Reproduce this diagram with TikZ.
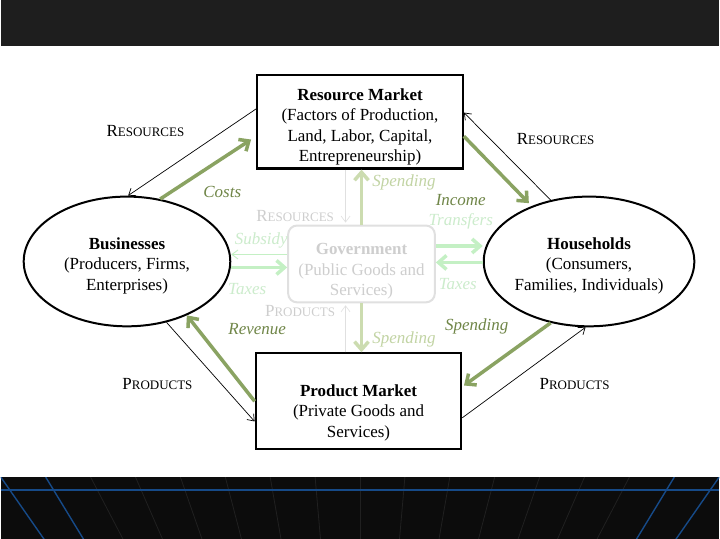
\documentclass[tikz,border=0pt]{standalone}
\usepackage{fontspec}
\setmainfont{Liberation Serif}
\usetikzlibrary{arrows.meta,positioning,calc,shapes.geometric}
\definecolor{moneygreen}{RGB}{138,163,98}
\definecolor{moneytext}{RGB}{112,134,72}
\definecolor{govgreen}{RGB}{204,220,176}
\definecolor{govgreentext}{RGB}{194,212,164}
\definecolor{mint}{RGB}{196,240,196}
\definecolor{minttext}{RGB}{204,236,204}
\definecolor{govgray}{RGB}{224,224,224}
\definecolor{govfont}{RGB}{206,206,206}
\definecolor{topband}{RGB}{30,30,30}
\definecolor{floorblack}{RGB}{12,12,12}
\definecolor{gridblue}{RGB}{22,74,136}
\definecolor{gridgray}{RGB}{32,32,32}
\newcommand{\fsc}[2]{#1{\fontsize{13}{13}\selectfont #2}}
\newcommand{\dropto}[1]{\rule{0pt}{#1}}

\begin{document}
\begin{tikzpicture}[x=1pt, y=-1pt,
  market/.style={draw, line width=2.2pt, minimum width=206pt, minimum height=94pt,
                 align=center, inner sep=0pt, font=\fontsize{17}{20.5}\selectfont},
  sector/.style={ellipse, draw, line width=2pt, minimum width=207pt, minimum height=130pt,
                 align=center, inner sep=0pt, font=\fontsize{17}{20.5}\selectfont},
  govbox/.style={draw=govgray, line width=2pt, rounded corners=9pt, minimum width=147pt,
                 minimum height=77pt, align=center, inner sep=0pt, text=govfont,
                 font=\fontsize{17}{20.5}\selectfont},
  flow/.style={-{Straight Barb[length=6pt, width=9pt]}, line width=0.7pt},
  money/.style={-{Straight Barb[length=8pt, width=14pt]}, line width=3.5pt, draw=moneygreen},
  govmoney/.style={money, draw=govgreen},
  mintmoney/.style={money, draw=mint},
  lbl/.style={font=\fontsize{17}{17}\selectfont, inner sep=0pt},
  moneylbl/.style={lbl, font=\fontsize{17}{17}\selectfont\itshape, text=moneytext}]
% background bands
\fill[white] (0,0) rectangle (720,540);
\fill[topband] (0,0) rectangle (720,46);
\fill[floorblack] (0,478) rectangle (720,540);
\begin{scope}
  \clip (0,478) rectangle (720,540);
  \foreach \k in {-6,...,6}
    \draw[gridgray, line width=0.8pt] ({360+45*\k},478) -- (360,995);
  \foreach \k in {-8,-7,7,8}
    \draw[gridblue, line width=1.4pt] ({360+45*\k},478) -- (360,995);
\end{scope}
\draw[gridblue, line width=1.5pt] (0,491) -- (720,491);

% sectors and markets
\node[govbox] (gov) at (361.5,264.5) {\dropto{26pt}\textbf{Government}\\(Public Goods and\\Services)};
\node[market, above=55pt of gov, xshift=-1.5pt] (rm)
  {\dropto{22pt}\textbf{Resource Market}\\(Factors of Production,\\Land, Labor, Capital,\\Entrepreneurship)};
\node[market, below=49pt of gov, xshift=-3pt, minimum height=96pt] (pm)
  {\dropto{35pt}\textbf{Product Market}\\(Private Goods and\\Services)};
\node[sector, left=56pt of gov, yshift=2.5pt] (bus)
  {\dropto{20pt}\textbf{Businesses}\\(Producers, Firms,\\Enterprises)};
\node[sector, right=47pt of gov, yshift=2.5pt] (hh)
  {\dropto{20pt}\textbf{Households}\\(Consumers,\\Families, Individuals)};

% outer circle
\draw[flow] (rm.173) -- (bus.89);
\draw[money, shorten >=6pt] (bus.62) -- (rm.188);
\draw[flow] (hh.122) -- (rm.5);
\draw[money, shorten >=4pt] (rm.-8) -- (hh.136);
\draw[flow] (bus.-57) -- (pm.191);
\draw[money] (pm.west) -- (bus.-42);
\draw[flow] (pm.-9) -- (hh.267);
\draw[money, shorten >=2pt] (hh.238) -- (pm.8);

% government flows
\draw[flow, draw=govgray, line width=0.6pt, shorten >=2pt]
  ([xshift=-16pt]gov.north |- rm.south) -- ([xshift=-16pt]gov.north);
\draw[govmoney] (gov.north) -- (gov.north |- rm.south);
\draw[flow, draw=govgray, line width=0.6pt, shorten >=2pt]
  ([xshift=-16pt]gov.south |- pm.north) -- ([xshift=-16pt]gov.south);
\draw[govmoney] (gov.south) -- (gov.south |- pm.north);
\draw[flow, draw=mint, line width=0.9pt] ([yshift=9.5pt]gov.west) -- ([yshift=9.5pt]gov.west -| bus.east);
\draw[mintmoney] ([yshift=-3.5pt]gov.west -| bus.east) -- ([yshift=-3.5pt]gov.west);
\draw[mintmoney] ([yshift=18pt]gov.east) -- ([yshift=18pt]gov.east -| hh.west);
\draw[mintmoney] ([yshift=1.5pt]gov.east -| hh.west) -- ([yshift=1.5pt]gov.east);

% labels
\node[lbl] (resl) at (145,131) {\fsc{R}{ESOURCES}};
\node[lbl] (resr) at (556,139) {\fsc{R}{ESOURCES}};
\node[lbl] (prol) at (157,385) {\fsc{P}{RODUCTS}};
\node[lbl] (pror) at (575,385) {\fsc{P}{RODUCTS}};
\node[moneylbl] (costs) at (222,192) {Costs};
\node[moneylbl] (income) at (461,200) {Income};
\node[moneylbl] (revenue) at (257,330) {Revenue};
\node[moneylbl] (spendhh) at (477,327) {Spending};
\node[lbl, text=govfont] (resg) at (295,216) {\fsc{R}{ESOURCES}};
\node[lbl, text=govfont] (prog) at (300,312) {\fsc{P}{RODUCTS}};
\node[moneylbl, text=govgreentext] (spendup) at (404,183) {Spending};
\node[moneylbl, text=govgreentext] (spenddown) at (404,340) {Spending};
\node[moneylbl, text=minttext] (transfers) at (461,222) {Transfers};
\node[moneylbl, text=minttext] (taxesr) at (458,285) {Taxes};
\node[moneylbl, text=minttext] (taxesl) at (247,290) {Taxes};
\node[moneylbl, text=minttext] (subsidy) at (261,241) {Subsidy};
\end{tikzpicture}
\end{document}
